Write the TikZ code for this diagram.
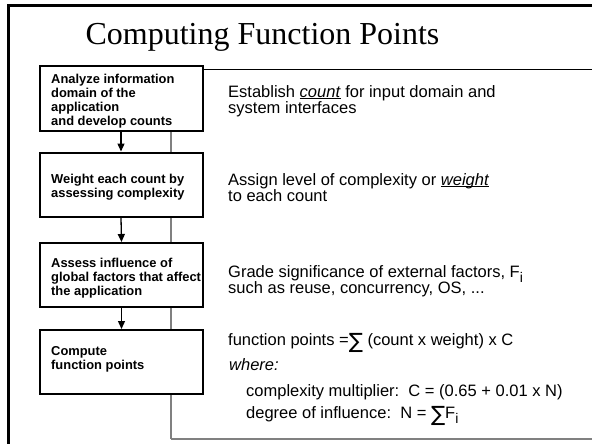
\documentclass[tikz,border=0pt]{standalone}
\usepackage{fontspec}
\setmainfont{Liberation Sans}
\newfontfamily\titlefont{Liberation Serif}
\newfontfamily\symfont{DejaVu Sans}
\usetikzlibrary{arrows.meta}
\newcommand\ml[1]{\begin{tabular}[t]{@{}l@{}}#1\end{tabular}}
\newcommand\sumsign{{\symfont\raisebox{-3.5pt}{\fontsize{21}{21}\selectfont ∑}}}
\newcommand\subi{\raisebox{-5pt}{\fontsize{14}{14}\selectfont i}}
\newcommand\ulit[1]{\underline{\smash{\textit{#1}}}}
\begin{document}
\begin{tikzpicture}[x=1pt,y=-1pt,
  stepbox/.style={draw=black,line width=2pt,fill=white,minimum width=163pt,minimum height=64pt,inner sep=0pt},
  boxtext/.style={anchor=base west,inner sep=0pt,font=\fontsize{12.9}{14}\selectfont\bfseries},
  desc/.style={anchor=base west,inner sep=0pt,font=\fontsize{16.5}{15}\selectfont},
  flow/.style={line width=1.3pt,-{Triangle[width=7pt,length=8pt]}},
  bracket/.style={draw=gray,line width=1.3pt},
  outerframe/.style={draw=black,line width=3pt,line join=miter}
]
\useasboundingbox (0,0) rectangle (592,444);
% outer frame
\coordinate (frBL) at (8.5,450);
\coordinate (frTL) at (8.5,6);
\coordinate (frTR) at (600,6);
\draw[outerframe] (frBL) -- (frTL) -- (frTR);
% bracket frame
\coordinate (brTL) at (171,70);
\coordinate (brBL) at (171,438.5);
\coordinate (brBR) at (600,438.5);
\coordinate (brTR) at (600,70);
\draw[bracket] (brTL) -- (brBL);
\draw[draw=gray,line width=2pt] (brBL) -- (brBR);
\draw[line width=1pt] (brTL) -- (brTR);
% title
\node[font=\titlefont\fontsize{32}{32}\selectfont,anchor=base,inner sep=0pt] (title) at (262.5,45) {Computing Function Points};
% boxes
\node[stepbox] (box1) at (121,98.5) {};
\node[stepbox] (box2) at (121,184.5) {};
\node[stepbox] (box3) at (121.5,275) {};
\node[stepbox] (box4) at (121.5,362) {};
\node[boxtext] (t1) at (51,84) {\ml{Analyze information\\domain of the\\application\\and develop counts}};
\node[boxtext] (t2) at (51,183) {\ml{Weight each count by\\assessing complexity}};
\node[boxtext] (t3) at (51,267) {\ml{Assess influence of\\global factors that affect\\the application}};
\node[boxtext] (t4) at (51,355) {\ml{Compute\\function points}};
\draw[flow] (box1.south) -- (box2.north);
\draw[flow] (box2.south) -- (box3.north);
\draw[flow] (box3.south) -- (box4.north);
% descriptions
\node[desc] (d1) at (228,97) {\ml{Establish \ulit{count} for input domain and\\system interfaces}};
\node[desc] (d2) at (228,185) {\ml{Assign level of complexity or \ulit{weight}\\to each count}};
\node[desc] (d3) at (228,277) {\ml{Grade significance of external factors, F\subi\\such as reuse, concurrency, OS, ...}};
\node[desc] (d4) at (228,345) {function points =\sumsign\ (count x weight) x C};
\node[desc] (d5) at (229,370) {\textit{where:}};
\node[desc] (d6) at (246,396) {complexity multiplier:\ \ C = (0.65 + 0.01 x N)};
\node[desc] (d7) at (246,418) {degree of influence:\ \ N = \sumsign F\subi};
\end{tikzpicture}
\end{document}
